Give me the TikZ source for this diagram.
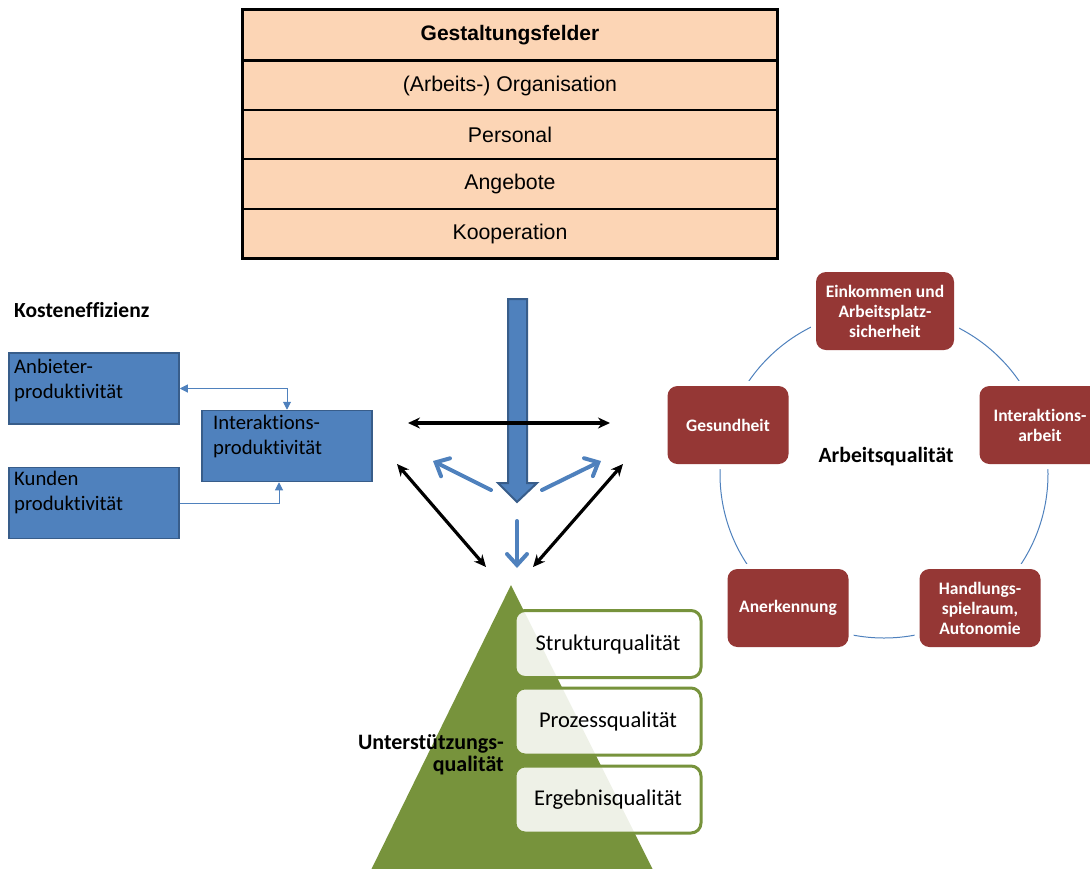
\documentclass[tikz,border=0pt]{standalone}
\usepackage{fontspec}
\setmainfont{Carlito}[RawFeature={-liga;-clig;-calt;-dlig}]
\newfontfamily\arial{Liberation Sans}
\usetikzlibrary{arrows.meta,calc}
\definecolor{peach}{HTML}{FCD5B5}
\definecolor{obl}{HTML}{4F81BD}
\definecolor{obld}{HTML}{385D8A}
\definecolor{ored}{HTML}{953735}
\definecolor{ogreen}{HTML}{77933C}
\begin{document}
\begin{tikzpicture}[x=1pt,y=-1pt,
  tabrow/.style={draw=black, line width=1.8pt, fill=peach, minimum width=534pt, minimum height=49.5pt, inner sep=0pt, font=\arial\fontsize{21.3}{25}\selectfont},
  bbox/.style={draw=obld, line width=1.5pt, fill=obl, minimum width=170pt, minimum height=71pt, inner sep=0pt},
  btext/.style={anchor=north west, align=left, inner sep=0pt, font=\fontsize{20.7}{25}\selectfont},
  bconn/.style={draw=obl, line width=1pt},
  tipT/.tip={Triangle[length=8pt,width=8pt]},
  barrow/.style={draw=obl, line width=4pt, line cap=round, -{Straight Barb[length=11pt,width=20pt,line cap=round]}},
  karrow/.style={draw=black, line width=3.2pt, {Stealth[length=12pt,width=11pt]}-{Stealth[length=12pt,width=11pt]}},
  rbox/.style={preaction={draw=white, line width=10pt}, fill=ored, rounded corners=10pt, minimum width=121pt, minimum height=78pt, text=white, font=\bfseries\fontsize{17.5}{20}\selectfont, align=center, inner sep=0pt},
  gbox/.style={draw=ogreen, line width=3pt, fill=white, fill opacity=0.88, text opacity=1, rounded corners=10pt, minimum width=186pt, minimum height=67pt, font=\fontsize{22.5}{26}\selectfont}
]
\useasboundingbox (0,0) rectangle (1090,868);

% Gestaltungsfelder table
\node[tabrow, font=\arial\bfseries\fontsize{21}{25}\selectfont] (r0) at (510,35) {Gestaltungsfelder};
\node[tabrow] (r1) at (510,85.5) {(Arbeits-) Organisation};
\node[tabrow] (r2) at (510,134.5) {Personal};
\node[tabrow] (r3) at (510,184) {Angebote};
\node[tabrow] (r4) at (510,233.5) {Kooperation};
\draw[line width=3.5pt] (r0.south west) -- (r0.south east);
\draw[line width=2.5pt] (r0.north west) rectangle (r4.south east);

% Kosteneffizienz
\node[anchor=west, inner sep=0pt, font=\bfseries\fontsize{21.5}{24}\selectfont] (kost) at (14,310) {Kosteneffizienz};
\node[bbox] (anb) at (94,388.5) {};
\node[bbox] (inter) at (287,446) {};
\node[bbox] (kun) at (94,503) {};
\node[btext] (anbt) at (14,359) {Anbieter-\\produktivität};
\node[btext] (intert) at (213,415) {Interaktions-\\produktivität};
\node[btext] (kunt) at (14,471) {Kunden\\produktivität};
\draw[bconn, tipT-tipT] (anb.east) -| (inter.north);
\draw[bconn, -tipT] (kun.east) -| ([xshift=-8pt]inter.south);

% central arrows
\coordinate (hl) at (408,423);
\coordinate (hr) at (610,423);
\coordinate (dl1) at (397,464);
\coordinate (dl2) at (486,567);
\coordinate (dr1) at (623,464);
\coordinate (dr2) at (533,567);
\coordinate (bl0) at (491,490);
\coordinate (bl1) at (433,461);
\coordinate (br0) at (542,490);
\coordinate (br1) at (601,461);
\coordinate (bd0) at (517,521);
\coordinate (bd1) at (517,568);

\filldraw[fill=obl, draw=obld, line width=2pt] (508,299) -- (527,299) -- (527,483) -- (537,483) -- (517,502) -- (498,483) -- (508,483) -- cycle;
\draw[karrow] (hl) -- (hr);
\draw[barrow] (bl0) -- (bl1);
\draw[barrow] (br0) -- (br1);
\draw[barrow] (bd0) -- (bd1);
\draw[karrow] (dl1) -- (dl2);
\draw[karrow] (dr1) -- (dr2);

% Arbeitsqualitaet cycle
\draw[obl, line width=1pt] (884,474) circle[radius=164pt];
\node[rbox, minimum width=138pt] (ein) at (885,311) {Einkommen und\\Arbeitsplatz-\\sicherheit};
\node[rbox] (ges) at (728,425) {Gesundheit};
\node[rbox] (ia) at (1040,425) {Interaktions-\\arbeit};
\node[rbox] (an) at (788,608) {Anerkennung};
\node[rbox] (hs) at (980,608) {Handlungs-\\spielraum,\\Autonomie};
\node[font=\bfseries\fontsize{21.7}{24}\selectfont, inner sep=0pt] (aq) at (886,457) {Arbeitsqualität};

% Pyramid
\fill[ogreen] (511,585) -- (653,870) -- (371,870) -- cycle;
\node[anchor=east, align=right, inner sep=0pt, font=\bfseries\fontsize{22}{22}\selectfont] (uq) at (504,755) {Unterstützungs-\\qualität};
\node[gbox] (sq) at (608,644) {Strukturqualität};
\node[gbox] (pq) at (608,721.5) {Prozessqualität};
\node[gbox] (eq) at (608,799.5) {Ergebnisqualität};
\end{tikzpicture}
\end{document}
